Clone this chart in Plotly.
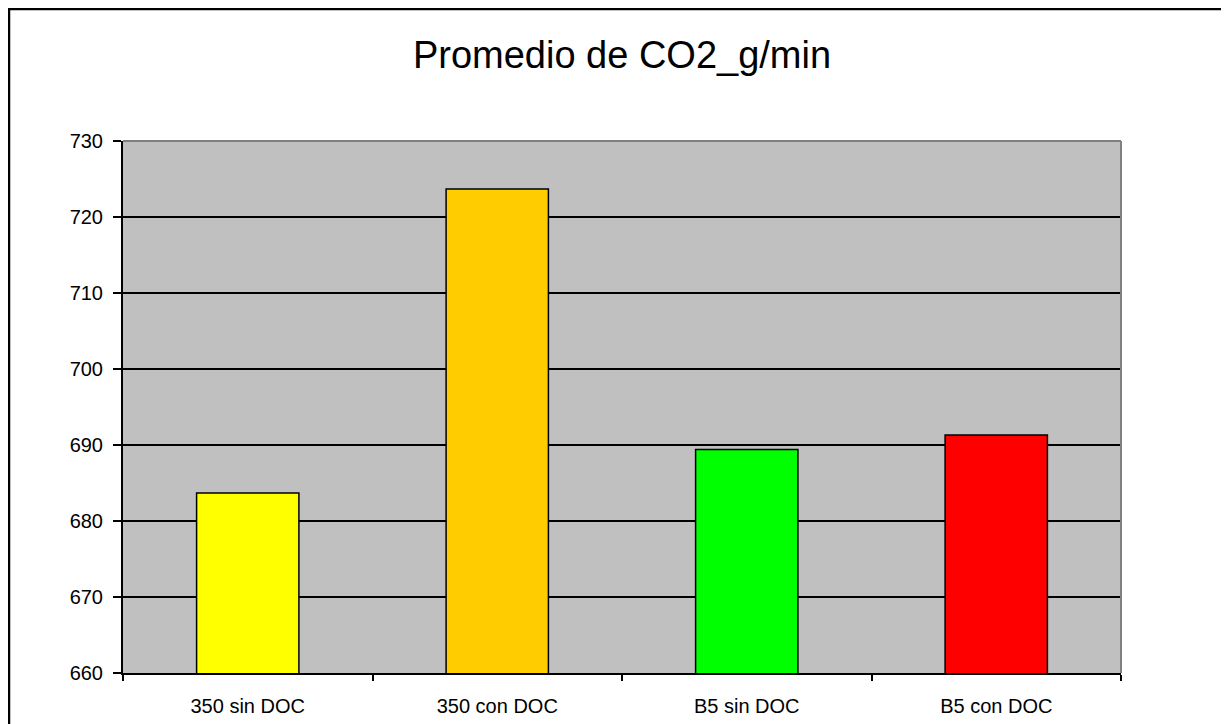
import plotly.graph_objects as go

categories = ["350 sin DOC", "350 con DOC", "B5 sin DOC", "B5 con DOC"]
values = [683.7, 723.7, 689.4, 691.3]
bar_colors = ["#FFFF00", "#FFCC00", "#00FF00", "#FF0000"]
y_ticks = [660, 670, 680, 690, 700, 710, 720, 730]
title_text = "Promedio de CO2_g/min"

OFF = 8  # page body margin
W, H = 1229 - OFF, 724 - OFF
L, R, T, B = 123 - OFF, 1121 - OFF, 141 - OFF, 673 - OFF

fig = go.Figure(go.Bar(
    x=categories, y=values,
    marker=dict(color=bar_colors, line=dict(color="black", width=1.5)),
    width=0.41,
))

pw, ph = R - L, B - T
def px_x(p):
    return (p - L) / pw
def px_y(p):
    return (B - p) / ph

fig.update_layout(
    width=W, height=H,
    margin=dict(l=L, r=W - R, t=T, b=H - B, pad=0),
    paper_bgcolor="white",
    plot_bgcolor="#C0C0C0",
    showlegend=False,
    font=dict(family="Liberation Sans, Arial, sans-serif", color="black"),
    title=dict(text=title_text, x=px_x(622 - OFF), xanchor="center", xref="paper",
               y=1 - (55 - OFF) / H, yanchor="middle", yref="container",
               font=dict(size=38, color="black")),
    xaxis=dict(showline=True, linecolor="black", linewidth=2,
               ticks="outside", ticklen=6, tickwidth=2, tickcolor="black",
               tickson="boundaries", showgrid=False, automargin=False,
               tickfont=dict(size=20), ticklabelstandoff=14),
    yaxis=dict(range=[660, 730], tickvals=y_ticks, showline=True,
               linecolor="black", linewidth=2, ticks="outside", ticklen=8,
               tickwidth=2, tickcolor="black", showgrid=True, automargin=False,
               gridcolor="black", gridwidth=1.5, zeroline=False,
               tickfont=dict(size=20), ticklabelstandoff=6),
    shapes=[
        dict(type="line", xref="paper", yref="paper", x0=0, x1=1, y0=1, y1=1,
             line=dict(color="#808080", width=2), layer="above"),
        dict(type="line", xref="paper", yref="paper", x0=1, x1=1, y0=0, y1=1,
             line=dict(color="#808080", width=2), layer="above"),
        dict(type="rect", xref="paper", yref="paper",
             x0=px_x(1), x1=px_x(W + 10), y0=px_y(H + 10), y1=px_y(1),
             line=dict(color="black", width=2.5), layer="above"),
    ],
)

fig.write_html("out.html")
